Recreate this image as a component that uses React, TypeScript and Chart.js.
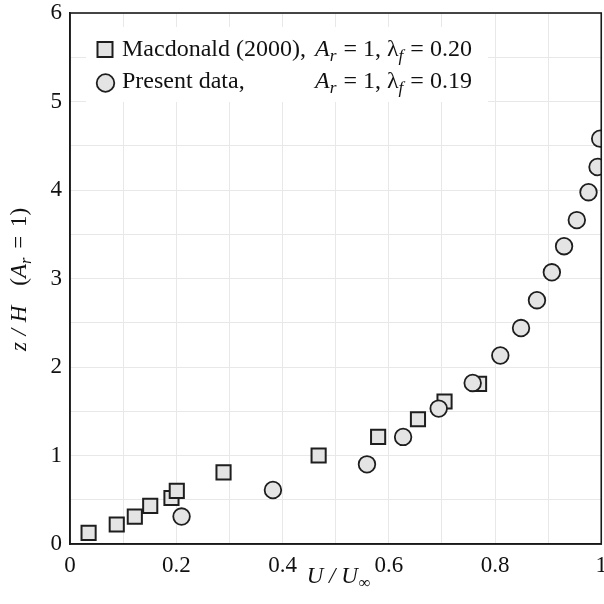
import React, { useEffect, useRef } from 'react';
import { Chart, registerables } from 'chart.js';

Chart.register(...registerables);

// Macdonald (2000), A_r = 1, lambda_f = 0.20
const macdonaldU = [0.035, 0.088, 0.122, 0.151, 0.191, 0.201, 0.289, 0.468, 0.58, 0.655, 0.705, 0.77];
const macdonaldZ = [0.125, 0.22, 0.31, 0.43, 0.52, 0.6, 0.81, 1.0, 1.21, 1.41, 1.61, 1.81];

// Present data, A_r = 1, lambda_f = 0.19
const presentU = [0.21, 0.382, 0.559, 0.627, 0.694, 0.758, 0.81, 0.849, 0.879, 0.907, 0.93, 0.954, 0.976, 0.993, 0.998];
const presentZ = [0.31, 0.61, 0.9, 1.21, 1.53, 1.82, 2.13, 2.44, 2.755, 3.07, 3.365, 3.66, 3.975, 4.26, 4.58];

const xTickLabels = ['0', '0.2', '0.4', '0.6', '0.8', '1'];
const yTickLabels = ['0', '1', '2', '3', '4', '5', '6'];

const SERIF = '"Liberation Serif", "DejaVu Serif", serif';

type Run = { t: string; it?: boolean; sub?: boolean; gap?: number };

function runFont(size: number, r: Run) {
  const s = r.sub ? size * 0.72 : size;
  return `${r.it ? 'italic ' : ''}${s}px ${SERIF}`;
}

function runsWidth(ctx: CanvasRenderingContext2D, runs: Run[], size: number) {
  let w = 0;
  for (const r of runs) {
    ctx.font = runFont(size, r);
    w += (r.gap || 0) + ctx.measureText(r.t).width;
  }
  return w;
}

function drawRuns(ctx: CanvasRenderingContext2D, x: number, y: number, runs: Run[], size: number) {
  let cx = x;
  ctx.textBaseline = 'alphabetic';
  ctx.textAlign = 'left';
  for (const r of runs) {
    ctx.font = runFont(size, r);
    cx += r.gap || 0;
    ctx.fillText(r.t, cx, r.sub ? y + size * 0.22 : y);
    cx += ctx.measureText(r.t).width;
  }
  return cx;
}

const legendRow1Name: Run[] = [{ t: 'Macdonald (2000),' }];
const legendRow2Name: Run[] = [{ t: 'Present data,' }];
const legendRow1Params: Run[] = [
  { t: 'A', it: true }, { t: 'r', it: true, sub: true }, { t: ' = 1, ', gap: 1 },
  { t: 'λ' }, { t: 'f', it: true, sub: true }, { t: ' = 0.20', gap: 1 },
];
const legendRow2Params: Run[] = [
  { t: 'A', it: true }, { t: 'r', it: true, sub: true }, { t: ' = 1, ', gap: 1 },
  { t: 'λ' }, { t: 'f', it: true, sub: true }, { t: ' = 0.19', gap: 1 },
];
const xTitle: Run[] = [{ t: 'U / U', it: true }, { t: '∞', sub: true, gap: 1 }];
const yTitle: Run[] = [
  { t: 'z', it: true }, { t: ' / ', it: true, gap: 1 }, { t: 'H', it: true, gap: 1 },
  { t: '(', gap: 20 }, { t: 'A', it: true }, { t: 'r', it: true, sub: true },
  { t: ' = ', gap: 3 }, { t: '1)', gap: 3 },
];

const decorPlugin = {
  id: 'decor',
  afterDatasetsDraw(chart: any) {
    const ctx: CanvasRenderingContext2D = chart.ctx;
    ctx.save();
    // legend box
    ctx.fillStyle = '#ffffff';
    ctx.fillRect(86, 27, 402, 75);
    ctx.strokeStyle = '#1e1e1e';
    ctx.lineWidth = 2;
    // square marker
    ctx.fillStyle = '#e4e4e4';
    ctx.fillRect(97.5, 42, 15, 15);
    ctx.strokeRect(97.5, 42, 15, 15);
    // circle marker
    ctx.beginPath();
    ctx.arc(105.5, 83, 8.8, 0, Math.PI * 2);
    ctx.fill();
    ctx.lineWidth = 1.8;
    ctx.stroke();
    ctx.fillStyle = '#111';
    drawRuns(ctx, 122, 56, legendRow1Name, 24);
    drawRuns(ctx, 122, 88, legendRow2Name, 24);
    drawRuns(ctx, 315, 56, legendRow1Params, 24);
    drawRuns(ctx, 315, 88, legendRow2Params, 24);
    ctx.restore();
  },
  afterDraw(chart: any) {
    const ctx: CanvasRenderingContext2D = chart.ctx;
    const a = chart.chartArea;
    ctx.save();
    ctx.strokeStyle = '#1a1a1a';
    ctx.lineWidth = 1.6;
    ctx.strokeRect(a.left, a.top, a.right - a.left, a.bottom - a.top);
    ctx.fillStyle = '#111';
    // x title
    const xs = 23;
    const xw = runsWidth(ctx, xTitle, xs);
    drawRuns(ctx, (a.left + a.right) / 2 + 3 - xw / 2, 583, xTitle, xs);
    // y title
    const ys = 23;
    ctx.translate(26, (a.top + a.bottom) / 2 + 1);
    ctx.rotate(-Math.PI / 2);
    const yw = runsWidth(ctx, yTitle, ys);
    drawRuns(ctx, -yw / 2, 0, yTitle, ys);
    ctx.restore();
  },
};

export default function App() {
  const ref = useRef<HTMLCanvasElement | null>(null);
  useEffect(() => {
    document.body.style.margin = '0';
    const canvas = ref.current;
    if (!canvas) return;
    const chart = new Chart(canvas, {
      type: 'scatter',
      data: {
        datasets: [
          {
            label: 'Macdonald (2000)',
            data: macdonaldU.map((u, i) => ({ x: u, y: macdonaldZ[i] })),
            pointStyle: 'rect',
            pointRadius: 10,
            pointBackgroundColor: '#e4e4e4',
            pointBorderColor: '#1e1e1e',
            pointBorderWidth: 2,
            order: 2,
          },
          {
            label: 'Present data',
            data: presentU.map((u, i) => ({ x: u, y: presentZ[i] })),
            pointStyle: 'circle',
            pointRadius: 8.3,
            pointBackgroundColor: '#e4e4e4',
            pointBorderColor: '#1e1e1e',
            pointBorderWidth: 1.8,
            order: 1,
          },
        ],
      },
      options: {
        animation: false,
        responsive: false,
        devicePixelRatio: 1,
        layout: { padding: { top: 13, right: 3, left: 0, bottom: 0 } },
        plugins: { legend: { display: false }, tooltip: { enabled: false } },
        scales: {
          x: {
            type: 'linear',
            min: 0,
            max: 1,
            afterFit: (s: any) => { s.height = 60; },
            ticks: {
              stepSize: 0.1,
              autoSkip: false,
              maxRotation: 0,
              padding: 8,
              color: '#111',
              font: { family: SERIF, size: 23 },
              callback: (_v: any, i: number) => (i % 2 === 0 ? xTickLabels[i / 2] : ''),
            },
            grid: { color: '#e8e8e8', lineWidth: 1, drawTicks: false },
            border: { display: true, color: '#1a1a1a', width: 1.6 },
          },
          y: {
            type: 'linear',
            min: 0,
            max: 6,
            afterFit: (s: any) => { s.width = 70; s.paddingTop = 0; s.paddingBottom = 0; },
            ticks: {
              stepSize: 0.5,
              autoSkip: false,
              padding: 8,
              color: '#111',
              font: { family: SERIF, size: 23 },
              callback: (_v: any, i: number) => (i % 2 === 0 ? yTickLabels[i / 2] : ''),
            },
            grid: { color: '#e8e8e8', lineWidth: 1, drawTicks: false },
            border: { display: true, color: '#1a1a1a', width: 1.6 },
          },
        },
      },
      plugins: [decorPlugin],
    });
    return () => chart.destroy();
  }, []);
  return (
    <div style={{ width: 604, height: 604, overflow: 'hidden' }}>
      <canvas ref={ref} width={615} height={604} style={{ display: 'block' }} />
    </div>
  );
}
